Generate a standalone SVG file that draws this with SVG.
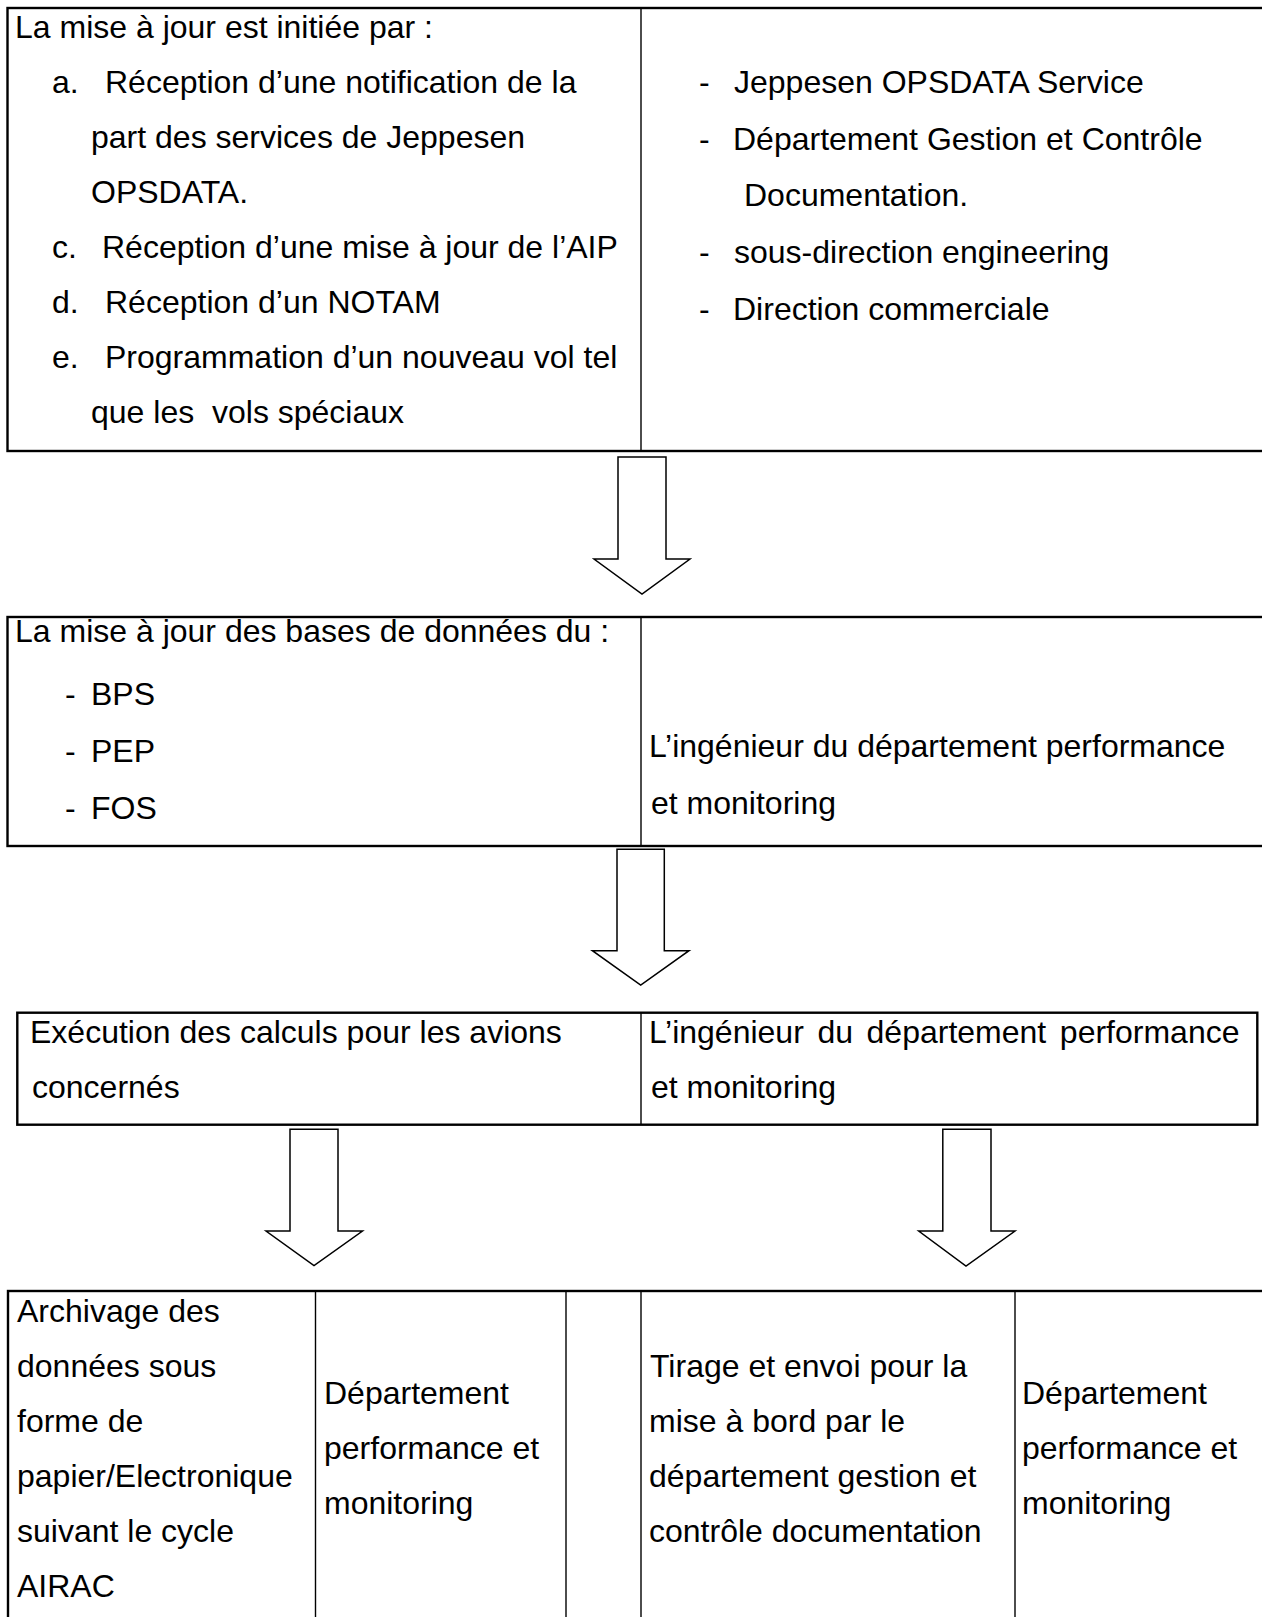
<svg xmlns="http://www.w3.org/2000/svg" width="1262" height="1617" viewBox="0 0 1262 1617">
  <style>
    text { font-family: "Liberation Sans", Arial, sans-serif; font-size: 32px; fill: #000; white-space: pre; }
    .outer { fill: none; stroke: #000; stroke-width: 2.4; }
    .inner { fill: none; stroke: #000; stroke-width: 1.4; }
    .arrow { fill: #fff; stroke: #000; stroke-width: 1.5; stroke-linejoin: miter; }
  </style>
  <rect width="1262" height="1617" fill="#fff"/>

  <!-- Step 1: triggers of the update and their sources -->
  <g id="step-initiation">
    <rect class="outer" x="7.5" y="8" width="1270" height="443"/>
    <line class="inner" x1="641" y1="8" x2="641" y2="451"/>
    <text x="15" y="38">La mise à jour est initiée par :</text>
    <text x="52" y="93">a.</text>
    <text x="105" y="93">Réception d’une notification de la</text>
    <text x="91" y="148">part des services de Jeppesen</text>
    <text x="91" y="203">OPSDATA.</text>
    <text x="52" y="258">c.</text>
    <text x="102" y="258">Réception d’une mise à jour de l’AIP</text>
    <text x="52" y="313">d.</text>
    <text x="105" y="313">Réception d’un NOTAM</text>
    <text x="52" y="368">e.</text>
    <text x="105" y="368">Programmation d’un nouveau vol tel</text>
    <text x="91" y="423">que les  vols spéciaux</text>

    <text x="699" y="93">-</text>
    <text x="734" y="93">Jeppesen OPSDATA Service</text>
    <text x="699" y="150">-</text>
    <text x="733" y="150">Département Gestion et Contrôle</text>
    <text x="744" y="206">Documentation.</text>
    <text x="699" y="263">-</text>
    <text x="734" y="263">sous-direction engineering</text>
    <text x="699" y="320">-</text>
    <text x="733" y="320">Direction commerciale</text>
  </g>

  <!-- Step 2: database update -->
  <g id="step-databases">
    <rect class="outer" x="7.5" y="617" width="1270" height="229"/>
    <line class="inner" x1="641" y1="617" x2="641" y2="846"/>
    <text x="15" y="642">La mise à jour des bases de données du :</text>
    <text x="65" y="705">-</text>
    <text x="91" y="705">BPS</text>
    <text x="65" y="762">-</text>
    <text x="91" y="762">PEP</text>
    <text x="65" y="819">-</text>
    <text x="91" y="819">FOS</text>
    <text x="649" y="757">L’ingénieur du département performance</text>
    <text x="651" y="814">et monitoring</text>
  </g>

  <!-- Step 3: calculations -->
  <g id="step-calculations">
    <rect class="outer" x="17.3" y="1012.7" width="1240" height="112"/>
    <line class="inner" x1="641" y1="1012.7" x2="641" y2="1124.7"/>
    <text x="30" y="1043">Exécution des calculs pour les avions</text>
    <text x="32" y="1098">concernés</text>
    <text x="649" y="1043" word-spacing="4.7">L’ingénieur du département performance</text>
    <text x="651" y="1098">et monitoring</text>
  </g>

  <!-- Step 4: archiving and distribution -->
  <g id="step-archiving">
    <rect class="outer" x="8" y="1291" width="1270" height="340"/>
    <line class="inner" x1="315.5" y1="1291" x2="315.5" y2="1630"/>
    <line class="inner" x1="566" y1="1291" x2="566" y2="1630"/>
    <text x="17" y="1322">Archivage des</text>
    <text x="17" y="1377">données sous</text>
    <text x="17" y="1432">forme de</text>
    <text x="17" y="1487">papier/Electronique</text>
    <text x="17" y="1542">suivant le cycle</text>
    <text x="17" y="1597">AIRAC</text>
    <text x="324" y="1404">Département</text>
    <text x="324" y="1459">performance et</text>
    <text x="324" y="1514">monitoring</text>
  </g>

  <g id="step-distribution">
    <line class="inner" x1="641" y1="1291" x2="641" y2="1630"/>
    <line class="inner" x1="1015" y1="1291" x2="1015" y2="1630"/>
    <text x="650" y="1377">Tirage et envoi pour la</text>
    <text x="649" y="1432">mise à bord par le</text>
    <text x="649" y="1487">département gestion et</text>
    <text x="649" y="1542">contrôle documentation</text>
    <text x="1022" y="1404">Département</text>
    <text x="1022" y="1459">performance et</text>
    <text x="1022" y="1514">monitoring</text>
  </g>

  <!-- Block arrows between the steps -->
  <g id="connectors">
    <path class="arrow" d="M618,457 H666 V559 H690 L642,594 L594,559 H618 Z"/>
    <path class="arrow" d="M617,849.3 H664.3 V950.7 H689 L640.7,985 L592.4,950.7 H617 Z"/>
    <path class="arrow" d="M290,1129.3 H338 V1231 H362.5 L314,1265.7 L266,1231 H290 Z"/>
    <path class="arrow" d="M942.8,1129.3 H991 V1231 H1015 L966,1266 L918.7,1231 H942.8 Z"/>
  </g>
</svg>
